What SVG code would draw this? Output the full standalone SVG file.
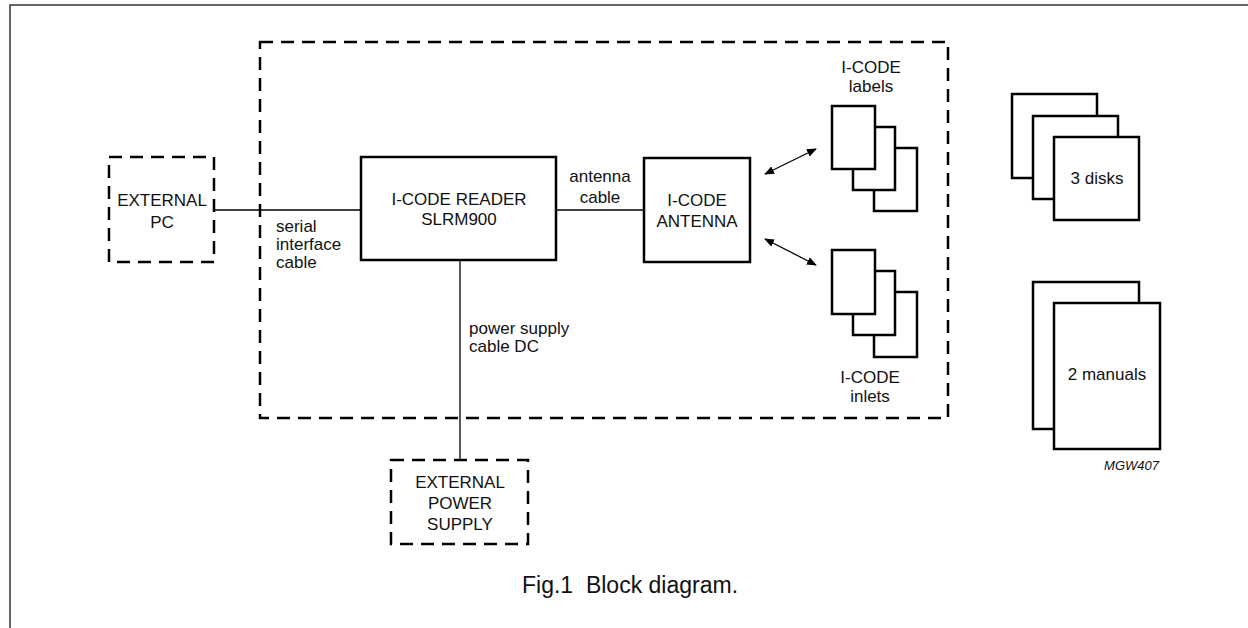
<svg xmlns="http://www.w3.org/2000/svg" width="1248" height="628" viewBox="0 0 1248 628">
<defs>
<marker id="ah" viewBox="0 0 10 8" refX="9" refY="4" markerWidth="10" markerHeight="8" markerUnits="userSpaceOnUse" orient="auto-start-reverse">
<path d="M0,0 L10,4 L0,8 Z" fill="#000"/>
</marker>
</defs>
<style>
text{font-family:"Liberation Sans",Arial,sans-serif;font-size:17px;fill:#111}
.c{text-anchor:middle}
.box{fill:#fff;stroke:#000;stroke-width:2.5}
.dash{fill:none;stroke:#000;stroke-width:2.5;stroke-dasharray:13 8}
.wire{fill:none;stroke:#000;stroke-width:1.3}
.frame{fill:none;stroke:#333;stroke-width:1.5}
</style>
<rect width="1248" height="628" fill="#fff"/>
<path class="frame" d="M10,628 V5 H1248"/>
<g id="system-boundary"><rect class="dash" x="260" y="42" width="688" height="376"/></g>
<g id="connectors">
<line class="wire" x1="214" y1="210" x2="361" y2="210"/>
<line class="wire" x1="556" y1="210" x2="644" y2="210"/>
<line class="wire" x1="460" y1="260" x2="460" y2="460"/>
<line class="wire" x1="765" y1="174" x2="816" y2="149" marker-start="url(#ah)" marker-end="url(#ah)"/>
<line class="wire" x1="765" y1="239" x2="816" y2="265" marker-start="url(#ah)" marker-end="url(#ah)"/>
<text x="276" y="232">serial</text>
<text x="276" y="250">interface</text>
<text x="276" y="268">cable</text>
<text class="c" x="600" y="182">antenna</text>
<text class="c" x="600" y="203">cable</text>
<text x="469" y="334">power supply</text>
<text x="469" y="352">cable DC</text>
</g>
<g id="external-pc">
<rect class="dash" x="109" y="157" width="105" height="105"/>
<text class="c" x="162" y="206">EXTERNAL</text>
<text class="c" x="162" y="228">PC</text>
</g>
<g id="reader">
<rect class="box" x="361" y="157" width="195" height="103"/>
<text class="c" x="459" y="205">I-CODE READER</text>
<text class="c" x="459" y="225">SLRM900</text>
</g>
<g id="antenna">
<rect class="box" x="644" y="158" width="106" height="104"/>
<text class="c" x="697" y="206">I-CODE</text>
<text class="c" x="697" y="227">ANTENNA</text>
</g>
<g id="labels">
<text class="c" x="871" y="73">I-CODE</text>
<text class="c" x="871" y="92">labels</text>
<rect class="box" x="874" y="148" width="43" height="63"/>
<rect class="box" x="853" y="127" width="42" height="63"/>
<rect class="box" x="832" y="106" width="43" height="63"/>
</g>
<g id="inlets">
<rect class="box" x="874" y="292" width="43" height="65"/>
<rect class="box" x="853" y="271" width="42" height="64"/>
<rect class="box" x="832" y="250" width="43" height="64"/>
<text class="c" x="870" y="383">I-CODE</text>
<text class="c" x="870" y="402">inlets</text>
</g>
<g id="power-supply">
<rect class="dash" x="391" y="460" width="137" height="84"/>
<text class="c" x="460" y="488">EXTERNAL</text>
<text class="c" x="460" y="509">POWER</text>
<text class="c" x="460" y="530">SUPPLY</text>
</g>
<g id="disks">
<rect class="box" x="1012" y="94" width="85" height="84"/>
<rect class="box" x="1033" y="116" width="85" height="83"/>
<rect class="box" x="1054" y="137" width="85" height="83"/>
<text class="c" x="1097" y="184">3 disks</text>
</g>
<g id="manuals">
<rect class="box" x="1033" y="282" width="106" height="147"/>
<rect class="box" x="1054" y="303" width="106" height="146"/>
<text class="c" x="1107" y="380">2 manuals</text>
</g>
<text x="1159" y="470" style="font-size:13px;font-style:italic;text-anchor:end">MGW407</text>
<text x="522" y="593" style="font-size:23px" xml:space="preserve">Fig.1  Block diagram.</text>
</svg>
